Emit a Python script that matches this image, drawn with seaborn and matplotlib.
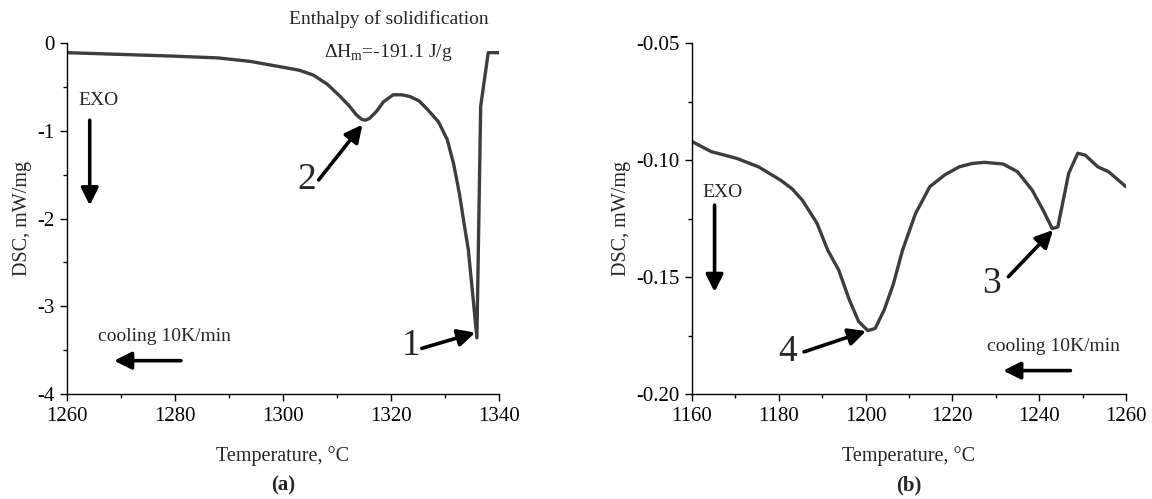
import matplotlib
matplotlib.use("Agg")
import matplotlib.pyplot as plt
import pandas as pd
import seaborn as sns

# panel (a): solidification peak
temp_a = [1260, 1270, 1280, 1288, 1294, 1299.4, 1303, 1305.6, 1308.2, 1310.6,
          1312.3, 1313.6, 1314.6, 1315.2, 1316.0, 1317.3, 1318.6, 1320.4, 1322.0,
          1323.5, 1325.2, 1326.8, 1328.8, 1330.4, 1331.6, 1332.7, 1333.5, 1334.3,
          1335.1, 1335.9, 1336.6, 1338.0, 1340.0]
dsc_a = [-0.11, -0.13, -0.15, -0.17, -0.21, -0.27, -0.31, -0.365, -0.47, -0.61,
         -0.72, -0.82, -0.87, -0.88, -0.86, -0.78, -0.67, -0.59, -0.59,
         -0.61, -0.66, -0.76, -0.90, -1.10, -1.38, -1.73, -2.05, -2.35,
         -2.85, -3.36, -0.72, -0.11, -0.11]

# panel (b): low temperature region
temp_b = [1160, 1164.4, 1170.3, 1175.3, 1180.4, 1183.0, 1185.4, 1188.8, 1191.3,
          1193.8, 1196.3, 1198.4, 1200.5, 1202.2, 1204.3, 1206.4, 1208.5, 1211.5,
          1214.8, 1218.2, 1221.6, 1224.5, 1227.4, 1231.7, 1235.0, 1238.4, 1240.9,
          1243.0, 1244.3, 1246.8, 1248.9, 1250.6, 1253.5, 1256.0, 1260.0]
dsc_b = [-0.0921, -0.0964, -0.0993, -0.1029, -0.1086, -0.1122, -0.1171, -0.127,
         -0.1386, -0.147, -0.160, -0.169, -0.1729, -0.172, -0.164, -0.153, -0.1386,
         -0.1229, -0.1114, -0.1064, -0.1029, -0.1015, -0.1010, -0.1017, -0.1050,
         -0.1129, -0.1214, -0.1293, -0.1286, -0.1057, -0.0971, -0.0979, -0.1029,
         -0.1050, -0.1114]

LINE = "#3d3d3d"
ARROW = dict(arrowstyle="-|>", color="black", lw=2.6, mutation_scale=26,
             shrinkA=0, shrinkB=0)

sns.set_style("ticks")
plt.rcParams["font.family"] = ["Liberation Serif", "DejaVu Serif"]
plt.rcParams["axes.unicode_minus"] = False
plt.rcParams["mathtext.fontset"] = "custom"
plt.rcParams["mathtext.rm"] = "Liberation Serif"

fig = plt.figure(figsize=(11.52, 4.99), dpi=100)
ax1 = fig.add_axes([0.0582, 0.2104, 0.375, 0.7034])
ax2 = fig.add_axes([0.6007, 0.2104, 0.3767, 0.7034])

df_a = pd.DataFrame({"T": temp_a, "DSC": dsc_a})
df_b = pd.DataFrame({"T": temp_b, "DSC": dsc_b})
sns.lineplot(df_a, x="T", y="DSC", ax=ax1, color=LINE, lw=2.4, estimator=None, sort=False)
sns.lineplot(df_b, x="T", y="DSC", ax=ax2, color=LINE, lw=2.4, estimator=None, sort=False)

ax1.set_xlim(1260, 1340)
ax1.set_ylim(-4, 0)
ax1.set_xticks([1260, 1280, 1300, 1320, 1340])
ax1.set_xticks([1270, 1290, 1310, 1330], minor=True)
ax1.set_yticks([0, -1, -2, -3, -4])
ax1.set_yticks([-0.5, -1.5, -2.5, -3.5], minor=True)

ax2.set_xlim(1160, 1260)
ax2.set_ylim(-0.20, -0.05)
ax2.set_xticks([1160, 1180, 1200, 1220, 1240, 1260])
ax2.set_xticks([1170, 1190, 1210, 1230, 1250], minor=True)
ax2.set_yticks([-0.05, -0.10, -0.15, -0.20])
ax2.set_yticklabels(["-0.05", "-0.10", "-0.15", "-0.20"])
ax2.set_yticks([-0.075, -0.125, -0.175], minor=True)

for ax in (ax1, ax2):
    sns.despine(ax=ax)
    for s in ("left", "bottom"):
        ax.spines[s].set_linewidth(1.0)
        ax.spines[s].set_color("black")
    ax.tick_params(which="major", direction="out", length=5, width=1.0,
                   labelsize=15, colors="black", pad=4)
    ax.tick_params(which="minor", direction="out", length=3, width=1.0, colors="black")
    ax.set_xlabel("Temperature, °C", fontsize=14.5, labelpad=15)
    ax.set_ylabel("DSC, mW/mg", fontsize=14.5, labelpad=4)

# panel (a) annotations
ax1.text(1319.5, 0.27, "Enthalpy of solidification", fontsize=14, ha="center",
         va="center", clip_on=False)
ax1.text(1319.5, -0.11, r"$\Delta$H$_\mathrm{m}$=-191.1 J/g", fontsize=14, ha="center",
         va="center", clip_on=False)
ax1.text(1265.8, -0.65, "EXO", fontsize=14, ha="center", va="center")
ax1.annotate("", xy=(1264.2, -1.85), xytext=(1264.2, -0.88), arrowprops=ARROW)
ax1.text(1278, -3.34, "cooling 10K/min", fontsize=14, ha="center", va="center")
ax1.annotate("", xy=(1268.7, -3.62), xytext=(1281.1, -3.62), arrowprops=ARROW)
ax1.text(1304.4, -1.56, "2", fontsize=27, ha="center", va="center")
ax1.annotate("", xy=(1314.7, -0.93), xytext=(1306.6, -1.56), arrowprops=ARROW)
ax1.text(1323.8, -3.45, "1", fontsize=27, ha="center", va="center")
ax1.annotate("", xy=(1335.6, -3.30), xytext=(1325.7, -3.48), arrowprops=ARROW)

# panel (b) annotations
ax2.text(1167.1, -0.114, "EXO", fontsize=14, ha="center", va="center")
ax2.annotate("", xy=(1165.2, -0.1564), xytext=(1165.2, -0.1193), arrowprops=ARROW)
ax2.text(1243.3, -0.1797, "cooling 10K/min", fontsize=14, ha="center", va="center")
ax2.annotate("", xy=(1231.7, -0.190), xytext=(1247.2, -0.190), arrowprops=ARROW)
ax2.text(1182, -0.1821, "4", fontsize=27, ha="center", va="center")
ax2.annotate("", xy=(1200.1, -0.1731), xytext=(1185.8, -0.182), arrowprops=ARROW)
ax2.text(1229, -0.1529, "3", fontsize=27, ha="center", va="center")
ax2.annotate("", xy=(1243.2, -0.1299), xytext=(1232.9, -0.1499), arrowprops=ARROW)

fig.text(0.2457, 0.028, "(a)", fontsize=15, fontweight="bold", ha="center", va="center")
fig.text(0.789, 0.028, "(b)", fontsize=15, fontweight="bold", ha="center", va="center")

fig.savefig("out.png", dpi=100, facecolor="white")
